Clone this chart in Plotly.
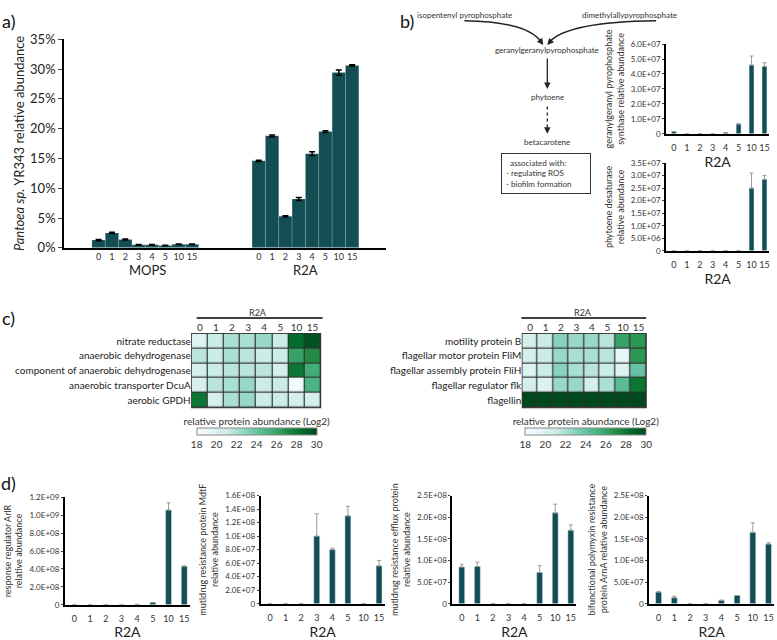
import plotly.graph_objects as go

teal = "#134e55"
W, H = 777, 640

times = ["0", "1", "2", "3", "4", "5", "10", "15"]

# panel a: Pantoea sp. YR343 relative abundance (%)
mops_pct = [1.3, 2.5, 1.4, 0.5, 0.5, 0.4, 0.6, 0.6]
mops_err = [0.1, 0.1, 0.1, 0.05, 0.05, 0.05, 0.05, 0.05]
r2a_pct = [14.6, 18.8, 5.3, 8.2, 15.8, 19.5, 29.4, 30.6]
r2a_err = [0.1, 0.15, 0.1, 0.25, 0.3, 0.15, 0.45, 0.1]

# panel b
ggps_vals = [1.5e6, 0, 0, 0, 0.8e6, 6.5e6, 4.6e7, 4.5e7]
ggps_err = [0, 0, 0, 0, 0, 0.3e6, 0.6e7, 0.25e7]
pds_vals = [0, 0, 0, 0, 0, 0, 2.5e7, 2.85e7]
pds_err = [0, 0, 0, 0, 0, 0, 0.6e7, 0.15e7]

# panel c (log2 relative protein abundance)
anaer_rows = ["nitrate reductase", "anaerobic dehydrogenase",
              "component of anaerobic dehydrogenase",
              "anaerobic transporter DcuA", "aerobic GPDH"]
anaer_z = [
    [20.0, 21.0, 22.0, 22.0, 22.5, 21.0, 28.5, 29.5],
    [21.5, 21.0, 22.0, 21.5, 21.0, 21.0, 26.0, 27.0],
    [20.5, 21.0, 21.5, 21.5, 21.5, 20.5, 28.0, 25.5],
    [20.5, 21.5, 22.0, 22.5, 21.0, 21.0, 18.5, 25.0],
    [28.0, 20.5, 22.0, 22.5, 21.0, 21.0, 20.5, 20.5],
]
flag_rows = ["motility protein B", "flagellar motor protein FliM",
             "flagellar assembly protein FliH", "flagellar regulator flk",
             "flagellin"]
flag_z = [
    [20.5, 21.0, 23.0, 22.5, 22.5, 21.5, 26.0, 26.5],
    [20.5, 21.0, 22.5, 22.0, 22.0, 21.5, 19.5, 26.5],
    [20.0, 21.0, 23.0, 22.0, 21.5, 21.0, 20.0, 24.0],
    [20.5, 20.0, 22.5, 22.5, 20.5, 22.0, 24.5, 28.0],
    [29.8, 29.8, 29.8, 29.8, 29.8, 29.8, 29.8, 29.8],
]

# panel d
arlr_vals = [0, 0, 0, 0, 3e6, 2.5e7, 1.06e9, 4.3e8]
arlr_err = [0, 0, 0, 0, 0, 0, 0.08e9, 0.05e8]
mdtf_vals = [0, 0, 0, 1.0e8, 8.0e7, 1.3e8, 0, 5.6e7]
mdtf_err = [0, 0, 0, 0.33e8, 0.2e7, 0.14e8, 0, 0.8e7]
efflux_vals = [8.5e7, 8.6e7, 0, 0, 0, 7.2e7, 2.1e8, 1.7e8]
efflux_err = [0.6e7, 1.0e7, 0, 0, 0, 1.6e7, 0.2e8, 0.12e8]
arna_vals = [2.7e7, 1.4e7, 0, 0, 8e6, 1.9e7, 1.65e8, 1.38e8]
arna_err = [0.1e7, 0.3e7, 0, 0, 0, 0, 0.22e8, 0.03e8]


def px(x):
    return x / W


def py(y):
    return 1 - y / H


fig = go.Figure()
layout = {}

# ---- panel a
fig.add_trace(go.Bar(x=[i for i in range(8)], y=mops_pct, width=1,
                     marker=dict(color=teal, line=dict(color="rgba(255,255,255,0.25)", width=0.6)),
                     error_y=dict(type="data", array=mops_err, color="black", thickness=1.5, width=3),
                     xaxis="x", yaxis="y"))
fig.add_trace(go.Bar(x=[i + 12 for i in range(8)], y=r2a_pct, width=1,
                     marker=dict(color=teal, line=dict(color="rgba(255,255,255,0.25)", width=0.6)),
                     error_y=dict(type="data", array=r2a_err, color="black", thickness=1.5, width=3),
                     xaxis="x", yaxis="y"))
layout["xaxis"] = dict(domain=[px(64), px(386)], anchor="y", range=[-2.6, 21.5],
                       showline=True, linecolor="black", linewidth=1.5,
                       tickvals=[i for i in range(8)] + [i + 12 for i in range(8)],
                       ticktext=times * 2, ticks="", tickangle=0,
                       tickfont=dict(size=9, color="#333"),
                       showgrid=False, zeroline=False)
layout["yaxis"] = dict(domain=[py(246), py(32)], anchor="x", range=[0, 35],
                       showline=True, linecolor="black", linewidth=1.5,
                       ticks="outside", ticklen=4, tickvals=[0, 5, 10, 15, 20, 25, 30, 35],
                       ticktext=[f"{v}%" for v in [0, 5, 10, 15, 20, 25, 30, 35]],
                       tickfont=dict(size=13, color="#222"), showgrid=False, zeroline=False,
                       title=dict(text="<i>Pantoea sp.</i> YR343 relative abundance",
                                  font=dict(size=13, color="#222"), standoff=3))


# ---- small bar charts
def small_bars(n, vals, errs):
    fig.add_trace(go.Bar(x=times, y=vals, width=0.38, marker_color=teal,
                         error_y=dict(type="data", symmetric=False, array=errs,
                                      arrayminus=[0] * 8, color="#9a9a9a",
                                      thickness=1, width=2),
                         xaxis=f"x{n}", yaxis=f"y{n}"))


def small_axes(n, xdom, ydom, ymax, step, title):
    ticks = [k * step for k in range(int(round(ymax / step)) + 1)]
    layout[f"xaxis{n}"] = dict(domain=xdom, anchor=f"y{n}", range=[-0.6, 7.35],
                               showline=True, linecolor="black", linewidth=2, ticks="",
                               ticklabelstandoff=4,
                               tickangle=0, tickfont=dict(size=9, color="#333"), showgrid=False,
                               title=dict(text="R2A", font=dict(size=14, color="#222"), standoff=0))
    layout[f"yaxis{n}"] = dict(domain=ydom, anchor=f"x{n}", range=[0, ymax],
                               showline=True, linecolor="black", linewidth=2,
                               ticks="outside", ticklen=2, tickvals=ticks,
                               ticktext=["0" if v == 0 else f"{v:.1E}" for v in ticks],
                               tickfont=dict(size=8, color="#333"), showgrid=False, zeroline=False,
                               title=dict(text=title, font=dict(size=9, color="#333"), standoff=5))


small_bars(2, ggps_vals, ggps_err)
small_axes(2, [px(667), px(770)], [py(129), py(37)], 6e7, 1e7,
           "geranylgeranyl pyrophosphate<br>synthase relative abundance")
small_bars(3, pds_vals, pds_err)
small_axes(3, [px(667), px(770)], [py(249), py(159)], 3.5e7, 5e6,
           "phytoene desaturase<br>relative abundance")

small_bars(6, arlr_vals, arlr_err)
small_axes(6, [px(65), px(190)], [py(612), py(502)], 1.2e9, 2e8,
           "response regulator ArlR<br>relative abundance")
small_bars(7, mdtf_vals, mdtf_err)
small_axes(7, [px(261), px(385)], [py(611), py(500)], 1.6e8, 2e7,
           "mutldrug resistance protein MdtF<br>relative abundance")
small_bars(8, efflux_vals, efflux_err)
small_axes(8, [px(453), px(577)], [py(611), py(500)], 2.5e8, 5e7,
           "mutldrug resistance efflux protein<br>relative abundance")
small_bars(9, arna_vals, arna_err)
small_axes(9, [px(650), px(775)], [py(611), py(500)], 2.5e8, 5e7,
           "bifunctional polymyxin resistance<br>protein ArnA relative abundance")

# ---- heatmaps
shapes = []
for n, rows, z, xdom, cbx, cblen in [(4, anaer_rows, anaer_z, [px(192), px(321)], px(257), px(120)),
                                      (5, flag_rows, flag_z, [px(523), px(647)], px(586.5), px(121))]:
    fig.add_trace(go.Heatmap(z=z, x=times, y=rows, colorscale="BuGn", zmin=18, zmax=30,
                             xgap=1.2, ygap=1.2, xaxis=f"x{n}", yaxis=f"y{n}",
                             colorbar=dict(orientation="h", x=cbx, xanchor="center", len=cblen,
                                           lenmode="fraction", y=py(451), yanchor="bottom",
                                           thickness=7, xpad=0, ypad=0,
                                           outlinewidth=1, outlinecolor="#888",
                                           tickvals=[18, 20, 22, 24, 26, 28, 30], ticks="",
                                           tickfont=dict(size=10, color="#333"),
                                           title=dict(text="relative protein abundance (Log2)",
                                                      side="top", font=dict(size=10, color="#333")))))
    layout[f"xaxis{n}"] = dict(domain=xdom, anchor=f"y{n}", side="top", ticks="",
                               tickfont=dict(size=10, color="#333"), showgrid=False)
    layout[f"yaxis{n}"] = dict(domain=[py(410), py(334)], anchor=f"x{n}", autorange="reversed",
                               ticks="", tickfont=dict(size=10, color="#222"), showgrid=False)
    shapes.append(dict(type="rect", xref=f"x{n} domain", yref=f"y{n} domain", x0=0, x1=1, y0=0, y1=1,
                       fillcolor="#333", line=dict(color="#333", width=1.2), layer="below"))

shapes.append(dict(type="line", xref="paper", yref="paper", x0=px(197), x1=px(323), y0=py(318), y1=py(318),
                   line=dict(color="black", width=1.5)))
shapes.append(dict(type="line", xref="paper", yref="paper", x0=px(522), x1=px(647), y0=py(318), y1=py(318),
                   line=dict(color="black", width=1.5)))

# ---- pathway diagram
shapes.append(dict(type="path", xref="paper", yref="paper",
                   path=f"M {px(465)},{py(13)} Q {px(528)},{py(14)} {px(542)},{py(35)}",
                   line=dict(color="#222", width=1.5)))
shapes.append(dict(type="path", xref="paper", yref="paper",
                   path=f"M {px(657)},{py(13)} Q {px(568)},{py(14)} {px(550)},{py(35)}",
                   line=dict(color="#222", width=1.5)))
shapes.append(dict(type="line", xref="paper", yref="paper", x0=px(548), x1=px(548), y0=py(101), y1=py(124),
                   line=dict(color="#222", width=1.3, dash="dot")))

ann = []
arrow = dict(showarrow=True, arrowhead=2, arrowsize=1, arrowwidth=1.3, arrowcolor="#222",
             text="", xref="paper", yref="paper")
ann.append(dict(arrow, x=px(544), y=py(38), ax=-5, ay=-7))
ann.append(dict(arrow, x=px(548), y=py(38), ax=6, ay=-7))
ann.append(dict(arrow, x=px(548), y=py(83), ax=0, ay=-32))
ann.append(dict(arrow, x=px(548), y=py(129), ax=0, ay=-6))

txt = dict(xref="paper", yref="paper", showarrow=False, xanchor="center", yanchor="middle",
           font=dict(size=8, color="#333"))
ann.append(dict(txt, x=px(465), y=py(7), text="isopentenyl pyrophosphate"))
ann.append(dict(txt, x=px(630), y=py(7), text="dimethylallypyrophosphate"))
ann.append(dict(txt, x=px(548), y=py(43), text="geranylgeranylpyrophosphate"))
ann.append(dict(txt, x=px(548), y=py(91), text="phytoene"))
ann.append(dict(txt, x=px(548), y=py(137), text="betacarotene"))
ann.append(dict(txt, x=px(547), y=py(170), align="left", width=80, bordercolor="#333",
                borderwidth=1, borderpad=4,
                text="  associated with:<br>- regulating ROS<br>- biofilm formation"))

# header text and group labels
ann.append(dict(txt, x=px(258), y=py(312), text="R2A", font=dict(size=9, color="#333")))
ann.append(dict(txt, x=px(584), y=py(312), text="R2A", font=dict(size=9, color="#333")))
ann.append(dict(txt, x=px(148), y=py(269), text="MOPS", font=dict(size=13, color="#222")))
ann.append(dict(txt, x=px(306), y=py(269), text="R2A", font=dict(size=13, color="#222")))

# panel letters
for lab, x, y in [("a)", 9, 13), ("b)", 408, 13), ("c)", 9, 318), ("d)", 9, 487)]:
    ann.append(dict(txt, x=px(x), y=py(y), text=lab, font=dict(size=18, color="#111")))

fig.update_layout(layout)
fig.update_layout(width=W, height=H, margin=dict(l=0, r=0, t=0, b=0),
                  paper_bgcolor="white", plot_bgcolor="white", showlegend=False,
                  font=dict(family="Lato, Open Sans, sans-serif", color="#222"),
                  shapes=shapes, annotations=ann)

fig.write_html("out.html", config={"displayModeBar": False},
               post_script="document.body.style.margin='0';document.body.style.overflow='hidden';")
